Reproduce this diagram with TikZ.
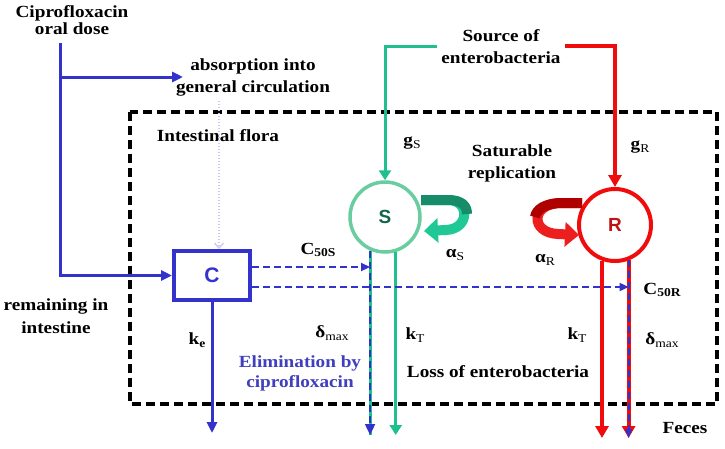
\documentclass[tikz,border=0pt]{standalone}
\usepackage{fontspec}
\usetikzlibrary{arrows.meta,calc}
\newfontfamily\labfont[FakeStretch=1.13]{Liberation Serif}
\newfontfamily\lsansfont{Liberation Sans}
\definecolor{cblue}{RGB}{51,51,204}
\definecolor{ctblue}{RGB}{63,63,191}
\definecolor{gline}{RGB}{30,192,142}
\definecolor{gcirc}{RGB}{105,205,160}
\definecolor{gtext}{RGB}{18,100,75}
\definecolor{gdark}{RGB}{22,140,105}
\definecolor{glight}{RGB}{32,200,150}
\definecolor{rline}{RGB}{240,12,12}
\definecolor{rtext}{RGB}{190,20,20}
\definecolor{rdark}{RGB}{175,0,0}
\definecolor{rlight}{RGB}{236,30,30}
\definecolor{lav}{RGB}{200,200,240}
\newcommand\subx[1]{\raisebox{-0.35ex}{\fontsize{12}{12}\selectfont #1}}
\tikzset{
  lab/.style={font=\labfont\bfseries\fontsize{17}{22}\selectfont, inner sep=0pt, align=center},
  blueline/.style={draw=cblue, line width=3pt},
  bluedash/.style={draw=cblue, line width=1.8pt, dash pattern=on 7pt off 4pt},
  btip/.style={-{Triangle[length=11pt,width=10pt]}},
  gtip/.style={-{Triangle[length=10pt,width=12pt]}},
  rtip/.style={-{Triangle[length=12pt,width=13pt]}},
  greenline/.style={draw=gline, line width=3pt},
  redline/.style={draw=rline, line width=4pt},
  frame/.style={draw=black, line width=4pt, dash pattern=on 9pt off 5pt},
}
\begin{document}
\begin{tikzpicture}[x=1pt,y=-1pt]
\useasboundingbox (0,0) rectangle (725,448);
\fill[white] (0,0) rectangle (725,448);

% intestinal flora frame
\draw[frame] (130,112) rectangle (717,404);

% text nodes
\node[lab, font=\labfont\bfseries\fontsize{17}{15}\selectfont] (cipro) at (72,20) {Ciprofloxacin\\oral dose};
\node[lab] (absorb) at (253,77) {absorption into\\general circulation};
\node[lab] (source) at (501,47) {Source of\\enterobacteria};
\node[lab] (flora) at (218,136) {Intestinal flora};
\node[lab] (satur) at (512,163) {Saturable\\replication};
\node[lab, font=\labfont\bfseries\fontsize{17}{23}\selectfont] (remain) at (56,316) {remaining in\\intestine};
\node[lab, text=ctblue, font=\labfont\bfseries\fontsize{17}{20}\selectfont] (elim) at (300,373) {Elimination by\\ciprofloxacin};
\node[lab] (loss) at (498,372) {Loss of enterobacteria};
\node[lab] (feces) at (685,428) {Feces};

% compartments
\node[draw=cblue, line width=4pt, minimum width=76pt, minimum height=49pt, inner sep=0pt,
      font=\lsansfont\bfseries\fontsize{21}{21}\selectfont, text=cblue] (C) at (212,275.5) {C};
\node[circle, draw=gcirc, line width=3.5pt, minimum size=70pt, inner sep=0pt,
      font=\lsansfont\bfseries\fontsize{19}{19}\selectfont, text=gtext] (S) at (385,217) {S};
\node[circle, draw=rline, line width=4pt, minimum size=72pt, inner sep=0pt,
      font=\lsansfont\bfseries\fontsize{19}{19}\selectfont, text=rtext] (R) at (615,225) {R};

% parameter labels
\node[lab] (gS) at (412,143) {g\subx{\mdseries S}};
\node[lab] (gR) at (640,147) {g\subx{\mdseries R}};
\node[lab] (aS) at (455,255) {α\subx{\mdseries S}};
\node[lab] (aR) at (545,260) {α\subx{\mdseries R}};
\node[lab] (c50sl) at (318,250) {C\subx{50S}};
\node[lab] (c50rl) at (662,290) {C\subx{50R}};
\node[lab] (ke) at (197,340) {k\subx{e}};
\node[lab] (dS) at (332,333) {δ\subx{\mdseries max}};
\node[lab] (kTS) at (415,335) {k\subx{\mdseries T}};
\node[lab] (kTR) at (577,335) {k\subx{\mdseries T}};
\node[lab] (dR) at (662,340) {δ\subx{\mdseries max}};

% helper coordinates
\coordinate (doseTop) at (60,43);
\coordinate (branch) at (60,77);
\coordinate (absTip) at (183,77);
\coordinate (dotx) at (219,0);
\coordinate (gsrc) at (437,46);
\coordinate (rsrc) at (565,46);
\coordinate (lowS) at (0,435);
\coordinate (lowR) at (0,438);
\coordinate (keEnd) at (0,433);
\coordinate (c50s) at ($(C.east)+(0,-8.5)$);
\coordinate (c50r) at ($(C.east)+(0,11.5)$);

% ciprofloxacin routes
\draw[blueline, btip] (doseTop) |- (C.west);
\draw[blueline, btip] (branch) -- (absTip);
\draw[draw=lav, line width=1.3pt, dash pattern=on 1.5pt off 1.5pt, -{Straight Barb[length=5pt,width=9pt]}]
  ($(absorb.south -| dotx)+(0,5)$) -- (C.north -| dotx);
\draw[blueline, btip] (C.south) -- (C.south |- keEnd);

% sources
\draw[greenline, gtip] (gsrc) -| (S.north);
\draw[redline, rtip] (rsrc) -| (R.north);

% losses
\draw[greenline] (S.246) -- (S.246 |- lowS);
\draw[greenline, gtip] (S.287) -- (S.287 |- lowS);
\draw[redline, rtip] (R.250) -- (R.250 |- lowR);
\draw[redline, rtip] (R.291) -- (R.291 |- lowR);
\draw[bluedash, btip] (S.246) -- (S.246 |- lowS);
\draw[bluedash, -{Triangle[length=9pt,width=7pt]}] (R.291) -- (R.291 |- lowR);

% drug effect
\draw[bluedash, -{Triangle[length=9pt,width=8pt]}] (c50s) -- (c50s -| S.246);
\draw[bluedash, -{Triangle[length=9pt,width=8pt]}] (c50r) -- (c50r -| R.291);

% saturable replication ribbons
\draw[draw=glight, line width=10pt, -{Triangle[length=14pt,width=24pt]}]
  (421,200) -- (448,200) .. controls (470,200) and (470,229) .. (446,230) -- (424,231);
\draw[draw=gdark, line width=10pt] (421,200) -- (448,200) .. controls (462,200) and (467,206) .. (467,214);
\draw[draw=rlight, line width=10pt, -{Triangle[length=14pt,width=24pt]}]
  (582,203) -- (562,203) .. controls (530,203) and (530,233) .. (558,234) -- (579,235);
\draw[draw=rdark, line width=10pt] (582,203) -- (562,203) .. controls (544,203) and (536,210) .. (535,217);
\end{tikzpicture}
\end{document}
